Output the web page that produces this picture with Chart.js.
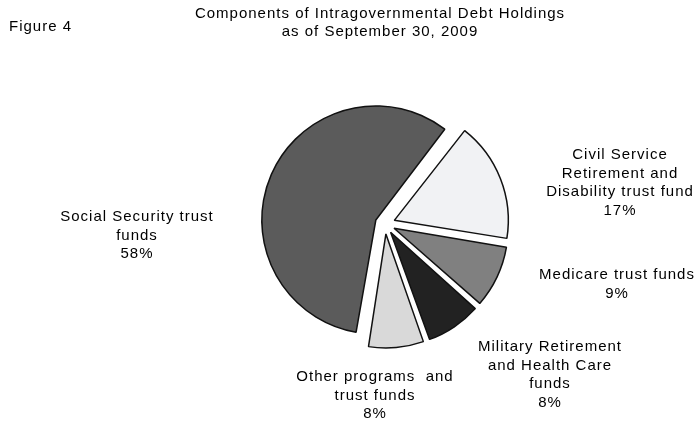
<!DOCTYPE html>
<html>
<head>
<meta charset="utf-8">
<script src="https://cdn.jsdelivr.net/npm/chart.js@4"></script>
<style>
  body { margin: 0; background: #fff; }
  #wrap { position: relative; width: 697px; height: 421px; }
</style>
</head>
<body>
<div id="wrap"><canvas id="grafica" width="697" height="421"></canvas></div>
<script>
// data, clockwise from the Civil Service slice
var categorias = [
    ['Civil Service', 'Retirement and', 'Disability trust fund'],
    ['Medicare trust funds'],
    ['Military Retirement', 'and Health Care', 'funds'],
    ['Other programs  and', 'trust funds'],
    ['Social Security trust', 'funds']
];
var porcentajes = [17, 9, 8, 8, 58];
var colores = ['#f1f2f4', '#808080', '#222222', '#d9d9d9', '#5b5b5b'];
// label anchor (center of first line)
var posEtiquetas = [[620, 155], [617, 275], [550, 347], [375, 377], [137, 217]];

var titulo = ['Components of Intragovernmental Debt Holdings', 'as of September 30, 2009'];

var radio = 114;
var desplazamiento = 40; // chart.js moves each slice by offset/4

const etiquetas = {
    id: 'etiquetas',
    beforeDatasetsDraw(chart) {
        // keep every slice at the same outer radius
        chart.getDatasetMeta(0).data.forEach(function (arc) {
            var c = arc.endAngle - arc.startAngle;
            var fix = 1 - Math.sin(Math.min(Math.PI, c));
            arc.outerRadius = radio - (desplazamiento / 4) * fix;
        });
    },
    afterDraw(chart) {
        var ctx = chart.ctx;
        ctx.save();
        ctx.fillStyle = '#000';
        ctx.textAlign = 'center';
        ctx.textBaseline = 'middle';
        ctx.font = '15px "Liberation Sans", Arial, sans-serif';
        ctx.letterSpacing = '1px';
        ctx.fillText(titulo[0], 380, 14);
        ctx.fillText(titulo[1], 380, 32);
        ctx.textAlign = 'left';
        ctx.fillText('Figure 4', 9, 27);
        ctx.textAlign = 'center';
        categorias.forEach(function (lineas, i) {
            var p = posEtiquetas[i];
            var todas = lineas.concat([porcentajes[i] + '%']);
            todas.forEach(function (l, j) {
                ctx.fillText(l, p[0], p[1] + j * 18.5);
            });
        });
        ctx.restore();
    }
};

var ctx = document.getElementById('grafica').getContext('2d');
var myChart = new Chart(ctx, {
    type: 'pie',
    data: {
        labels: categorias.map(function (c) { return c.join(' '); }),
        datasets: [{
            data: porcentajes,
            backgroundColor: colores,
            borderColor: '#111',
            borderWidth: 1.5,
            offset: desplazamiento
        }]
    },
    options: {
        responsive: false,
        animation: false,
        rotation: 38,
        radius: radio,
        layout: {
            padding: { left: 150, right: 77, top: 60, bottom: 33 }
        },
        plugins: {
            legend: { display: false },
            tooltip: { enabled: false }
        }
    },
    plugins: [etiquetas]
});
</script>
</body>
</html>
